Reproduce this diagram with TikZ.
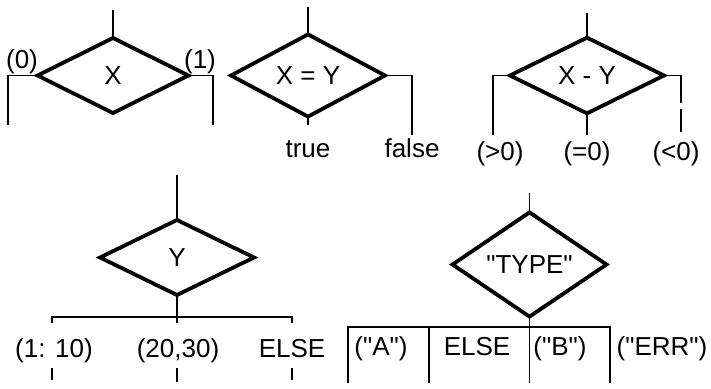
\documentclass[tikz,border=0pt]{standalone}
\usepackage{fontspec}
\setmainfont{Liberation Sans}[Ligatures=TeXOff]
\usetikzlibrary{shapes.geometric}
\begin{document}
\begin{tikzpicture}[x=1pt,y=-1pt,
  dec/.style={diamond, draw, line width=3.8pt, minimum width=154pt, minimum height=75pt,
    inner sep=0pt, outer sep=0pt, font=\fontsize{26}{30}\selectfont},
  wire/.style={line width=1.4pt},
  lbl/.style={anchor=base, inner sep=0pt, font=\fontsize{26}{30}\selectfont}]
\useasboundingbox (0,0) rectangle (711,388);

% ---- diagram 1: X
\node[dec, minimum width=151pt] (d1) at (113,75.5) {X};
\coordinate (t1) at (113,10);
\coordinate (l1) at (8,125);
\coordinate (r1) at (213,125);
\draw[wire] (t1) -- (d1.north);
\draw[wire] (d1.west) -| (l1);
\draw[wire] (d1.east) -| (r1);
\node[lbl] (z0) at (22,68) {(0)};
\node[lbl] (z1) at (200,68) {(1)};

% ---- diagram 2: X = Y
\node[dec] (d2) at (308,75.5) {X = Y};
\coordinate (t2) at (308,7);
\coordinate (b2) at (308,125);
\coordinate (r2) at (412,135);
\draw[wire] (t2) -- (d2.north);
\draw[wire] (d2.south) -- (b2);
\draw[wire] (d2.east) -| (r2);
\node[lbl] (tr) at (308,157) {true};
\node[lbl] (fa) at (412,157) {false};

% ---- diagram 3: X - Y
\node[dec] (d3) at (587,75.5) {X - Y};
\coordinate (t3) at (587,13);
\coordinate (l3) at (493,135);
\coordinate (b3) at (587,135);
\coordinate (r3a) at (681,103);
\coordinate (r3b) at (681,109);
\coordinate (r3c) at (681,132);
\draw[wire] (t3) -- (d3.north);
\draw[wire] (d3.west) -| (l3);
\draw[wire] (d3.south) -- (b3);
\draw[wire] (d3.east) -| (r3a);
\draw[wire] (r3b) -- (r3c);
\node[lbl] (gt) at (500,160) {(>0)};
\node[lbl] (eq) at (587,160) {(=0)};
\node[lbl] (lt) at (676,160) {(<0)};

% ---- diagram 4: Y
\node[dec] (d4) at (177,257.5) {Y};
\coordinate (t4) at (177,175);
\coordinate (b4) at (177,323);
\coordinate (a4) at (52,323);
\coordinate (c4) at (292,323);
\draw[wire] (t4) -- (d4.north);
\draw[wire] (d4.south) -- (b4);
\draw[wire] (a4) |- (177,317) -| (c4);
\node[lbl] (y1) at (54,357) {(1: 10)};
\node[lbl] (y2) at (178,357) {(20,30)};
\node[lbl] (y3) at (292,357) {ELSE};
\coordinate (u1) at (52,368);  \coordinate (v1) at (52,380);
\coordinate (u2) at (177,368); \coordinate (v2) at (177,382);
\coordinate (u3) at (292,368); \coordinate (v3) at (292,380);
\draw[wire] (u1) -- (v1);
\draw[wire] (u2) -- (v2);
\draw[wire] (u3) -- (v3);

% ---- diagram 5: "TYPE"
\node[dec] (d5) at (529.5,264.5) {"TYPE"};
\coordinate (t5) at (529.5,193);
\coordinate (b5) at (529.5,383);
\coordinate (p1) at (348,383);
\coordinate (p4) at (610,383);
\coordinate (q2a) at (429,327);
\coordinate (q2b) at (429,383);
\draw[wire] (t5) -- (d5.north);
\draw[wire] (d5.south) -- (b5);
\draw[wire] (p1) |- (479,327) -| (p4);
\draw[wire] (q2a) -- (q2b);
\node[lbl] (s1) at (381,355) {("A")};
\node[lbl] (s2) at (477,355) {ELSE};
\node[lbl] (s3) at (560,355) {("B")};
\node[lbl] (s4) at (662,355) {("ERR")};
\end{tikzpicture}
\end{document}
